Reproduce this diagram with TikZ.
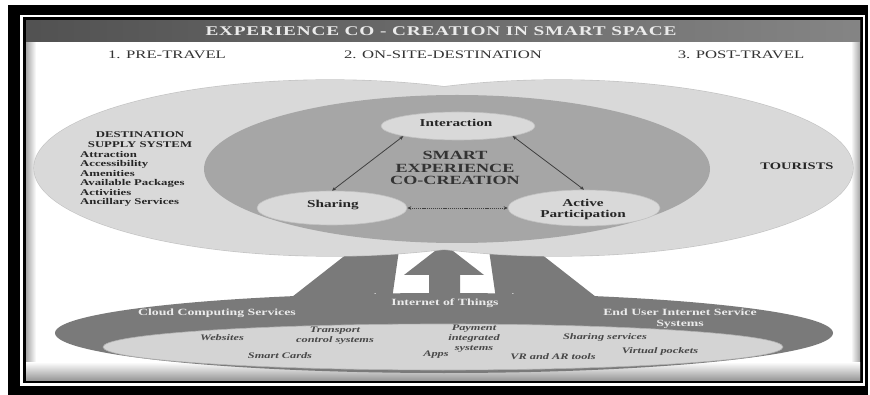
\documentclass[tikz,border=0pt]{standalone}
\usepackage{fontspec}
\setmainfont{Liberation Serif}[FakeStretch=1.45]
\usetikzlibrary{shapes.geometric,arrows.meta}
\definecolor{lightg}{HTML}{D9D9D9}
\definecolor{midg}{HTML}{A6A6A6}
\definecolor{darkg}{HTML}{7A7A7A}
\definecolor{rimg}{HTML}{C2C2C2}
\begin{document}
\begin{tikzpicture}[x=1pt,y=-1pt,
  bigell/.style={ellipse, inner sep=0pt},
  smallell/.style={ellipse, inner sep=0pt, fill=lightg, draw=rimg, line width=0.6pt},
  lbl/.style={font=\bfseries\fontsize{10.5}{11.5}\selectfont, text=black!85, align=center},
  band/.style={font=\bfseries\fontsize{9.5}{11}\selectfont, text=black!8, align=center},
  itm/.style={font=\bfseries\itshape\fontsize{8.5}{10}\selectfont, text=black!72, align=center},
  headtxt/.style={font=\fontsize{11.5}{13}\selectfont, text=black!80},
  link/.style={draw=black!75, line width=0.8pt, {Stealth[length=4pt,width=3.5pt]}-{Stealth[length=4pt,width=3.5pt]}},
  bigarrow/.style={fill=darkg}
]
\useasboundingbox (0,0) rectangle (870,395);
\fill[white] (0,0) rectangle (870,395);
% frame
\fill[black] (8,5) rectangle (868,395);
\draw[white, line width=2.5pt] (21.5,16) rectangle (864,384.5);
% panel
\fill[white] (26,21) rectangle (860,380);
\shade[left color=black!35, right color=white] (26,21) rectangle (36,380);
\shade[left color=white, right color=black!35] (851,21) rectangle (860,380);
\shade[top color=white, bottom color=black!40] (26,362) rectangle (860,380);
% title bar
\shade[left color=black!68, right color=black!48] (26,21) rectangle (860,42);
\node[font=\bfseries\fontsize{13.3}{15}\selectfont\addfontfeature{LetterSpace=6}, text=black!8] (title) at (441,31.5) {EXPERIENCE CO - CREATION IN SMART SPACE};
% phase headings
\node[headtxt] (pre) at (167,55) {1. PRE-TRAVEL};
\node[headtxt] (onsite) at (443,55) {2. ON-SITE-DESTINATION};
\node[headtxt] (post) at (741,55) {3. POST-TRAVEL};
% block arrows (behind the ellipses)
\fill[bigarrow] (444,244) -- (484,275) -- (460,275) -- (460,305) -- (429,305) -- (429,275) -- (404,275) -- cycle;
\fill[bigarrow] (400,243) -- (331,236) -- (345.8,254.9) -- (259.1,322.7) -- (288.7,360.5) -- (375.4,292.7) -- (390.2,311.6) -- cycle;
\fill[bigarrow] (488,243) -- (557,236) -- (542.2,254.9) -- (628.9,322.7) -- (599.3,360.5) -- (512.6,292.7) -- (497.8,311.6) -- cycle;
% big ellipses
\node[bigell, draw=rimg, line width=1.2pt, minimum width=592, minimum height=176] (supplyrim) at (330,168) {};
\node[bigell, draw=rimg, line width=1.2pt, minimum width=590, minimum height=176] (touristrim) at (558,168) {};
\node[bigell, fill=lightg, minimum width=592, minimum height=176] (supply) at (330,168) {};
\node[bigell, fill=lightg, minimum width=590, minimum height=176] (tourist) at (558,168) {};
\node[bigell, fill=midg, minimum width=506, minimum height=148] (smart) at (457,169) {};
% small ellipses
\node[smallell, minimum width=154, minimum height=28] (interaction) at (458,126) {};
\node[smallell, minimum width=150, minimum height=34] (sharing) at (332,208) {};
\node[smallell, minimum width=152, minimum height=36] (active) at (584,208) {};
\node[lbl] (interactionlbl) at (456,122.5) {Interaction};
\node[lbl] (sharinglbl) at (333,205) {Sharing};
\node[lbl] (activelbl) at (583,209.5) {Active\\Participation};
\node[font=\bfseries\fontsize{12.5}{12.8}\selectfont, text=black!80, align=center] (smartlbl) at (455,168) {SMART\\EXPERIENCE\\CO-CREATION};
% links
\draw[link] (interaction.south west) -- (sharing.north);
\draw[link] (interaction.south east) -- (active.north);
\draw[link, dash pattern=on 1.2pt off 0.9pt] (sharing.east) -- (active.west);
% left text
\node[font=\bfseries\fontsize{8.8}{10}\selectfont, align=center, text=black!85] (dss) at (140,140) {DESTINATION\\SUPPLY SYSTEM};
\node[font=\bfseries\fontsize{8.8}{9.5}\selectfont, align=left, anchor=west, text=black!85, inner sep=0pt] (dsslist) at (80,179) {Attraction\\Accessibility\\Amenities\\Available Packages\\Activities\\Ancillary Services};
\node[font=\bfseries\fontsize{10}{12}\selectfont, text=black!85] (tourists) at (797,166) {TOURISTS};
% bottom ellipse
\node[bigell, fill=darkg, minimum width=778, minimum height=80] (iot) at (444,333) {};
\node[bigell, fill=black!17, draw=black!30, line width=0.6pt, minimum width=680, minimum height=46] (tools) at (443,347) {};
\node[band] (cloud) at (217,313) {Cloud Computing Services};
\node[band] (iotlbl) at (445,303) {Internet of Things};
\node[band] (enduser) at (680,318.5) {End User Internet Service\\Systems};
\node[itm] (websites) at (222,338) {Websites};
\node[itm] (transport) at (335,335.5) {Transport\\control systems};
\node[itm] (payment) at (474,338.5) {Payment\\integrated\\systems};
\node[itm] (sharingsvc) at (605,337) {Sharing services};
\node[itm] (virtual) at (660,351) {Virtual pockets};
\node[itm] (smartcards) at (280,356) {Smart Cards};
\node[itm] (apps) at (436,355) {Apps};
\node[itm] (vrar) at (553,357) {VR and AR tools};
\end{tikzpicture}
\end{document}
